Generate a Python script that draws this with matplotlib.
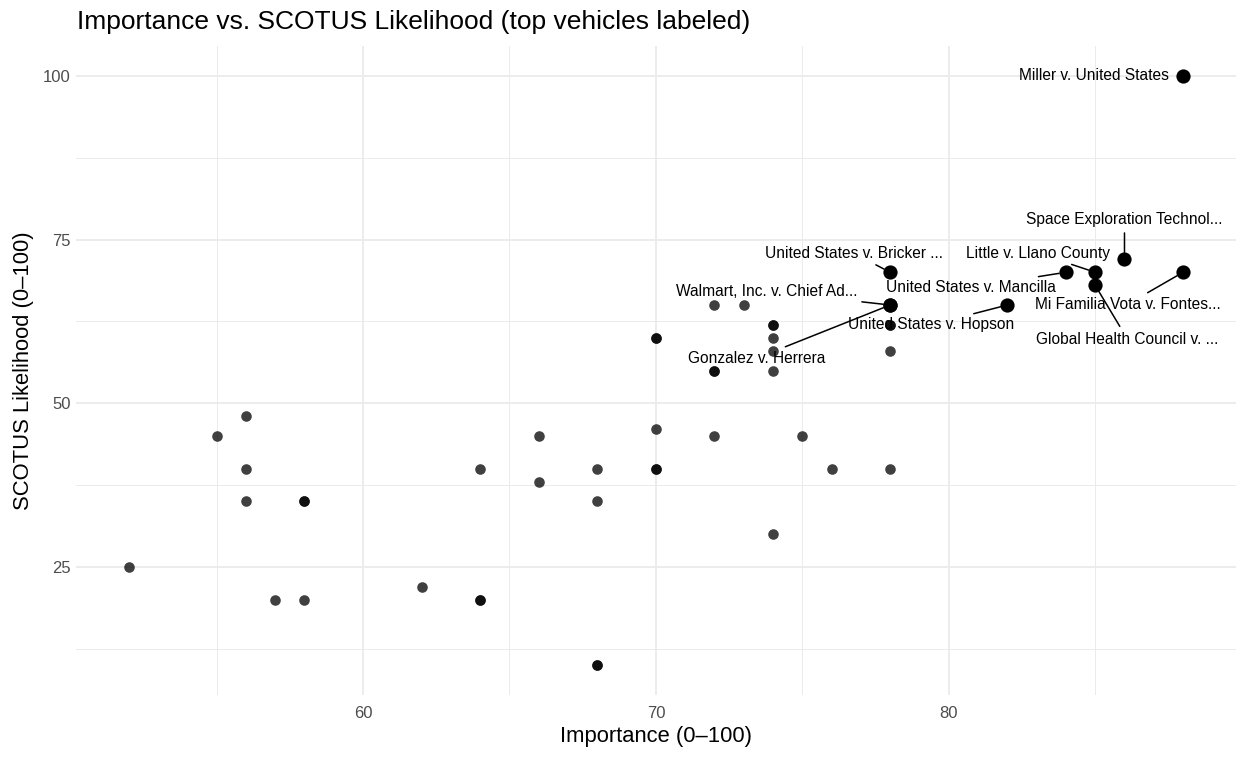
import numpy as np
import matplotlib
matplotlib.use('Agg')
import matplotlib.pyplot as plt

plt.rcParams['font.family'] = 'Liberation Sans'

# unlabeled cases (importance, scotus likelihood)
importance = [52, 55, 56, 56, 56, 58, 58, 57, 58, 62, 64, 64, 64, 66, 66,
              68, 68, 68, 68, 70, 70, 70, 70, 70, 72, 73, 72, 72, 72,
              74, 74, 74, 74, 74, 74, 75, 76, 78, 78, 78, 78]
likelihood = [25, 45, 48, 40, 35, 35, 35, 20, 20, 22, 20, 20, 40, 45, 38,
              40, 35, 10, 10, 46, 40, 40, 60, 60, 65, 65, 55, 55, 45,
              62, 62, 60, 58, 55, 30, 45, 40, 62, 62, 58, 40]

# top vehicles (labeled)
top_names = ['Miller v. United States', 'Space Exploration Technol...',
             'Little v. Llano County', 'United States v. Mancilla',
             'Mi Familia Vota v. Fontes...', 'Global Health Council v. ...',
             'United States v. Bricker ...', 'Walmart, Inc. v. Chief Ad...',
             'Gonzalez v. Herrera', 'United States v. Hopson']
top_importance = [88, 86, 85, 84, 88, 85, 78, 78, 78, 82]
top_likelihood = [100, 72, 70, 70, 70, 68, 70, 65, 65, 65]

# where the repelled labels ended up (data coords), and alignment
label_xy = [(87.5, 100), (86.0, 78.0), (83.05, 72.9), (80.75, 67.7),
            (86.1, 65.1), (86.1, 59.8), (76.75, 72.9), (73.8, 67.1),
            (73.45, 56.9), (79.4, 62.0)]
label_ha = ['right', 'center', 'center', 'center', 'center', 'center',
            'center', 'center', 'center', 'center']
draw_seg = [False, True, True, True, True, True, True, True, True, True]

fig = plt.figure(figsize=(12.47, 7.6), dpi=100)
ax = fig.add_axes([0.061, 0.086, 0.930, 0.853])

ax.scatter(importance, likelihood, s=58, color='black', alpha=0.75,
           linewidths=0, zorder=3)
ax.scatter(top_importance, top_likelihood, s=105, color='black',
           linewidths=0, zorder=4)

for name, x, y, (tx, ty), ha, seg in zip(top_names, top_importance, top_likelihood,
                                          label_xy, label_ha, draw_seg):
    if seg:
        ax.annotate(name, xy=(x, y), xytext=(tx, ty), ha=ha, va='center',
                    fontsize=11.2, zorder=5,
                    arrowprops=dict(arrowstyle='-', color='black', lw=1.1,
                                    shrinkA=2, shrinkB=5))
    else:
        ax.text(tx, ty, name, ha=ha, va='center', fontsize=11.2, zorder=5)

ax.set_xlim(50.2, 89.8)
ax.set_ylim(5.5, 104.5)
ax.set_xticks([60, 70, 80])
ax.set_xticks([55, 65, 75, 85], minor=True)
ax.set_yticks([25, 50, 75, 100])
ax.set_yticks([12.5, 37.5, 62.5, 87.5], minor=True)
ax.grid(True, which='major', color='#EBEBEB', linewidth=1.3, zorder=0)
ax.grid(True, which='minor', color='#EBEBEB', linewidth=0.7, zorder=0)
ax.set_axisbelow(True)
for sp in ax.spines.values():
    sp.set_visible(False)
ax.tick_params(which='both', length=0, labelsize=12, labelcolor='#4D4D4D')
ax.tick_params(axis='x', pad=8)
ax.tick_params(axis='y', pad=4)

ax.set_xlabel('Importance (0\u2013100)', fontsize=15.8, labelpad=4)
ax.set_ylabel('SCOTUS Likelihood (0\u2013100)', fontsize=15.8, labelpad=6)
fig.text(0.062, 0.971, 'Importance vs. SCOTUS Likelihood (top vehicles labeled)',
         fontsize=19, ha='left', va='center')

fig.savefig('out.png', dpi=100, facecolor='white')
